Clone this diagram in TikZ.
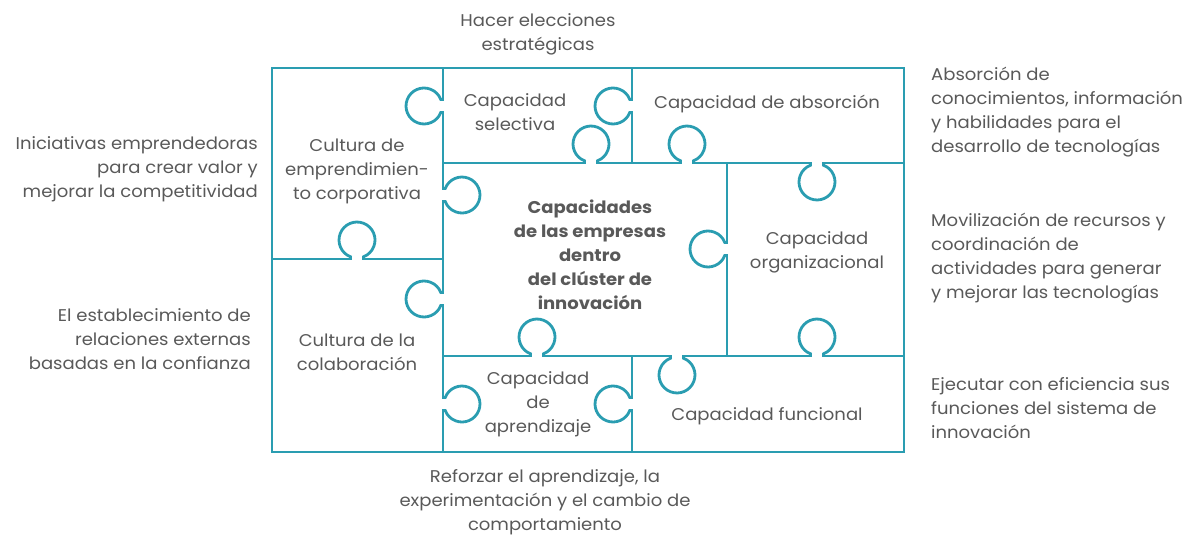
\documentclass[tikz,border=0pt]{standalone}
\usepackage{fontspec}
\setmainfont{Poppins}[FakeStretch=1.06]
\definecolor{puzzleteal}{HTML}{2A9DB1}
\definecolor{textgray}{HTML}{595959}

\begin{document}
\begin{tikzpicture}[
    x=1pt, y=-1pt,
    edge/.style={draw=puzzleteal, line width=2.8pt},
    cell/.style={
        align=center,
        text=textgray,
        inner sep=0pt,
        font=\fontsize{17}{24}\selectfont
    },
    note/.style={
        text=textgray,
        inner sep=0pt,
        font=\fontsize{17}{24}\selectfont
    },
    knob/.pic={
        \fill[white] (-2,-5) rectangle (2,5);
        \draw[edge] (0,-6.5) -- (2.2,-6.5)
            arc[start angle=-158.8, end angle=158.8, radius=18] -- (0,6.5);
    }
]
    \useasboundingbox (0,0) rectangle (1187,536);

    % Marco del rompecabezas
    \draw[edge] (272,68) rectangle (904,452);

    % Divisiones entre las piezas
    \draw[edge] (443,68) -- (443,452);
    \draw[edge] (632,68) -- (632,163);
    \draw[edge] (443,163) -- (904,163);
    \draw[edge] (272,259) -- (443,259);
    \draw[edge] (727,163) -- (727,356);
    \draw[edge] (443,356) -- (904,356);
    \draw[edge] (632,356) -- (632,452);

    % Lengüetas (x / y / giro)
    \foreach \x/\y/\ang in {443/106/180, 632/106/180, 591/163/90, 687/163/90,
                            817/163/-90, 443/195/0, 357/259/90, 443/299/180,
                            727/249/180, 537/356/90, 443/404/0, 632/404/180,
                            677/356/-90, 817/356/90}
        \pic[rotate=\ang] at (\x,\y) {knob};

    % Piezas
    \node[cell] (selectiva) at (515,112) {Capacidad\\selectiva};
    \node[cell] (absorcion) at (767,104) {Capacidad de absorción};
    \node[cell] (emprendimiento) at (357,171) {Cultura de\\emprendimien-\\to corporativa};
    \node[cell, font=\fontsize{17}{24}\selectfont\bfseries] (nucleo) at (590,255)
        {Capacidades\\de las empresas\\dentro\\del clúster de\\innovación};
    \node[cell] (organizacional) at (817,252) {Capacidad\\organizacional};
    \node[cell] (colaboracion) at (357,352) {Cultura de la\\colaboración};
    \node[cell] (aprendizaje) at (538,404) {Capacidad\\de\\aprendizaje};
    \node[cell] (funcional) at (767,416) {Capacidad funcional};

    % Descripciones alrededor
    \node[note, align=center] (elecciones) at (538,34) {Hacer elecciones\\estratégicas};
    \node[note, align=right, anchor=east] (iniciativas) at (258,169)
        {Iniciativas emprendedoras\\para crear valor y\\mejorar la competitividad};
    \node[note, align=right, anchor=east] (relaciones) at (251,339)
        {El establecimiento de\\relaciones externas\\basadas en la confianza};
    \node[note, align=left, anchor=west] (conocimientos) at (931,112)
        {Absorción de\\conocimientos, información\\y habilidades para el\\desarrollo de tecnologías};
    \node[note, align=left, anchor=west] (recursos) at (931,258)
        {Movilización de recursos y\\coordinación de\\actividades para generar\\y mejorar las tecnologías};
    \node[note, align=left, anchor=west] (eficiencia) at (931,408)
        {Ejecutar con eficiencia sus\\funciones del sistema de\\innovación};
    \node[note, align=center] (refuerzo) at (545,502)
        {Reforzar el aprendizaje, la\\experimentación y el cambio de\\comportamiento};
\end{tikzpicture}
\end{document}
